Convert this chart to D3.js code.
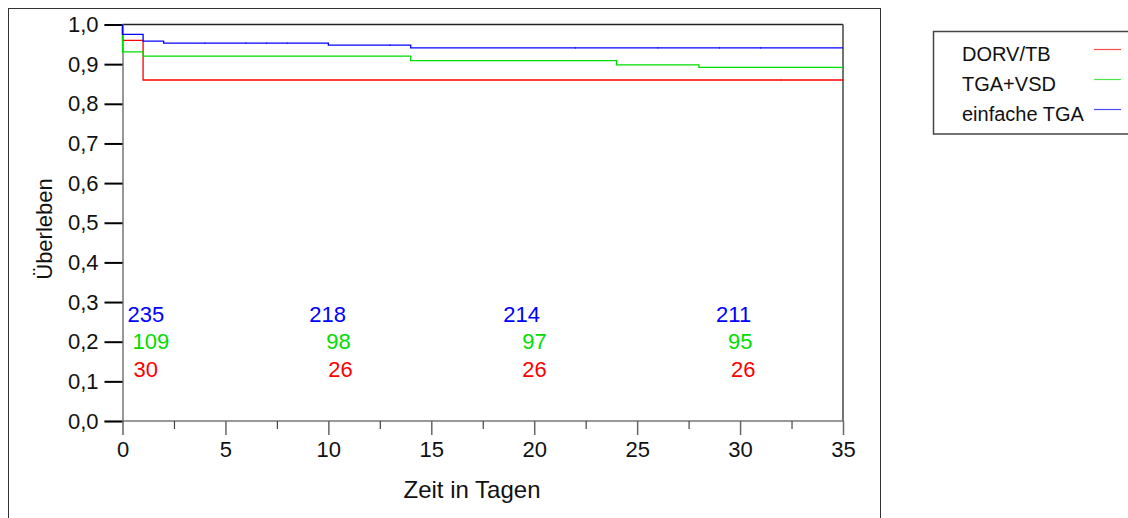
<!DOCTYPE html>
<html>
<head>
<meta charset="utf-8">
<script src="https://cdn.jsdelivr.net/npm/d3@7"></script>
<style>
  body { margin: 0; background: #fff; }
  svg { display: block; font-family: "Liberation Sans", Arial, sans-serif; }
</style>
</head>
<body>
<div id="chart"></div>
<script>
// survival steps per group (time in days, survival fraction)
const groups = ["DORV/TB", "TGA+VSD", "einfache TGA"];
const colors = ["#ff0000", "#00dd00", "#0000ff"];

const redTimes = [0, 0, 1, 35];
const redSurv = [1, 0.96, 0.86, 0.86];
const greenTimes = [0, 0, 1, 14, 24, 28, 35];
const greenSurv = [1, 0.931, 0.92, 0.909, 0.898, 0.892, 0.892];
const blueTimes = [0, 0, 1, 2, 10, 14, 35];
const blueSurv = [1, 0.975, 0.958, 0.953, 0.948, 0.941, 0.941];

// censored observations
const redCensor = [32];
const greenCensor = [];
const blueCensor = [4, 6, 7, 8, 13, 22, 26, 29, 31];

// numbers at risk
const riskTimes = [0, 10, 20, 30];
const redRisk = [30, 26, 26, 26];
const greenRisk = [109, 98, 97, 95];
const blueRisk = [235, 218, 214, 211];

const xTicks = [0, 5, 10, 15, 20, 25, 30, 35];
const xMinor = [2.5, 7.5, 12.5, 17.5, 22.5, 27.5, 32.5];
const yTicks = [0, 0.1, 0.2, 0.3, 0.4, 0.5, 0.6, 0.7, 0.8, 0.9, 1.0];

const W = 1128, H = 518;
const margin = { top: 24.5, left: 122.5, right: 285, bottom: 97 };
const innerW = 843 - margin.left;
const innerH = 421 - margin.top;

const svg = d3.select("#chart").append("svg").attr("width", W).attr("height", H);

// outer frame
svg.append("rect")
  .attr("x", 8.5).attr("y", 8.5)
  .attr("width", 872).attr("height", 600)
  .attr("fill", "none").attr("stroke", "#333").attr("stroke-width", 1);

const g = svg.append("g").attr("transform", `translate(${margin.left},${margin.top})`);

const x = d3.scaleLinear().domain([0, 35]).range([0, innerW]);
const y = d3.scaleLinear().domain([0, 1]).range([innerH, 0]);

const de = d3.formatLocale({ decimal: ",", thousands: ".", grouping: [3], currency: ["", " €"] });
const fmt = de.format(".1f");

// top and right border of plot
g.append("line").attr("x1", 0).attr("x2", innerW).attr("y1", 0).attr("y2", 0)
  .attr("stroke", "#222").attr("stroke-width", 1.5);
g.append("line").attr("x1", innerW).attr("x2", innerW).attr("y1", 0).attr("y2", innerH)
  .attr("stroke", "#444").attr("stroke-width", 1.5);

// y axis
const yAxis = g.append("g")
  .call(d3.axisLeft(y).tickValues(yTicks).tickFormat(fmt).tickSize(18).tickPadding(6))
  .call(a => a.select(".domain").attr("stroke", "#777").attr("stroke-width", 1.5))
  .call(a => a.selectAll(".tick line").attr("stroke", "#000").attr("stroke-width", 2));
yAxis.selectAll("text").attr("font-size", 22).attr("fill", "#111").attr("font-family", "Liberation Sans, Arial");

// x axis
const xAxis = g.append("g")
  .attr("transform", `translate(0,${innerH})`)
  .call(d3.axisBottom(x).tickValues(xTicks).tickSize(14).tickPadding(6))
  .call(a => a.select(".domain").attr("stroke", "#777").attr("stroke-width", 1.5).attr("d", `M0,0H${innerW}`))
  .call(a => a.selectAll(".tick line").attr("stroke", "#666").attr("stroke-width", 1.5));
xAxis.selectAll("text").attr("font-size", 22).attr("fill", "#111").attr("font-family", "Liberation Sans, Arial");

g.append("g")
  .attr("transform", `translate(0,${innerH})`)
  .call(d3.axisBottom(x).tickValues(xMinor).tickSize(8).tickFormat(""))
  .call(a => a.select(".domain").remove())
  .call(a => a.selectAll(".tick line").attr("stroke", "#444").attr("stroke-width", 1.2));

// axis titles
svg.append("text")
  .attr("x", 472).attr("y", 498)
  .attr("text-anchor", "middle")
  .attr("font-size", 24).attr("fill", "#111")
  .text("Zeit in Tagen");

svg.append("text")
  .attr("transform", "translate(52,229) rotate(-90)")
  .attr("text-anchor", "middle")
  .attr("font-size", 22).attr("fill", "#111")
  .text("Überleben");

// survival curves
const series = [
  { times: redTimes, surv: redSurv, censor: redCensor, risk: redRisk },
  { times: greenTimes, surv: greenSurv, censor: greenCensor, risk: greenRisk },
  { times: blueTimes, surv: blueSurv, censor: blueCensor, risk: blueRisk }
];

const line = d3.line()
  .x(d => x(d[0]))
  .y(d => y(d[1]))
  .curve(d3.curveStepAfter);

// survival value at time t for a step curve
function survAt(s, t) {
  let v = s.surv[0];
  s.times.forEach((tt, i) => { if (tt <= t) v = s.surv[i]; });
  return v;
}

series.forEach((s, i) => {
  const pts = s.times.map((t, j) => [t, s.surv[j]]);
  g.append("path")
    .datum(pts)
    .attr("fill", "none")
    .attr("stroke", colors[i])
    .attr("stroke-width", 1.3)
    .attr("d", line);

  g.selectAll(null)
    .data(s.censor)
    .enter()
    .append("line")
    .attr("x1", d => x(d)).attr("x2", d => x(d))
    .attr("y1", d => y(survAt(s, d)) - 1)
    .attr("y2", d => y(survAt(s, d)) + 1)
    .attr("stroke", colors[i])
    .attr("stroke-width", 1)
    .attr("stroke-opacity", 0.6);
});

// numbers at risk (small hand nudges, px, to match the original placement)
const riskNudge = [
  [11, 0, -12, -9],
  [10, -2, -12, -12],
  [5, -19, -31, -24]
];
const riskBaseline = [377, 349, 322];

series.forEach((s, i) => {
  g.selectAll(null)
    .data(s.risk)
    .enter()
    .append("text")
    .attr("x", (d, j) => x(riskTimes[j]) + riskNudge[i][j])
    .attr("y", riskBaseline[i] - margin.top)
    .attr("font-size", 22)
    .attr("fill", colors[i])
    .text(d => d);
});

// legend
const legend = svg.append("g");
legend.append("rect")
  .attr("x", 933.5).attr("y", 31.5)
  .attr("width", 240).attr("height", 102.5)
  .attr("fill", "#fff").attr("stroke", "#444").attr("stroke-width", 1.5);

const legendRows = [60.5, 90.5, 120.5];
groups.forEach((name, i) => {
  legend.append("text")
    .attr("x", 962).attr("y", legendRows[i])
    .attr("font-size", 20).attr("fill", "#111")
    .text(name);
  legend.append("line")
    .attr("x1", 1094).attr("x2", 1121)
    .attr("y1", legendRows[i] - 11).attr("y2", legendRows[i] - 11)
    .attr("stroke", colors[i]).attr("stroke-width", 1.2)
    .attr("stroke-opacity", 0.7);
});
</script>
</body>
</html>
